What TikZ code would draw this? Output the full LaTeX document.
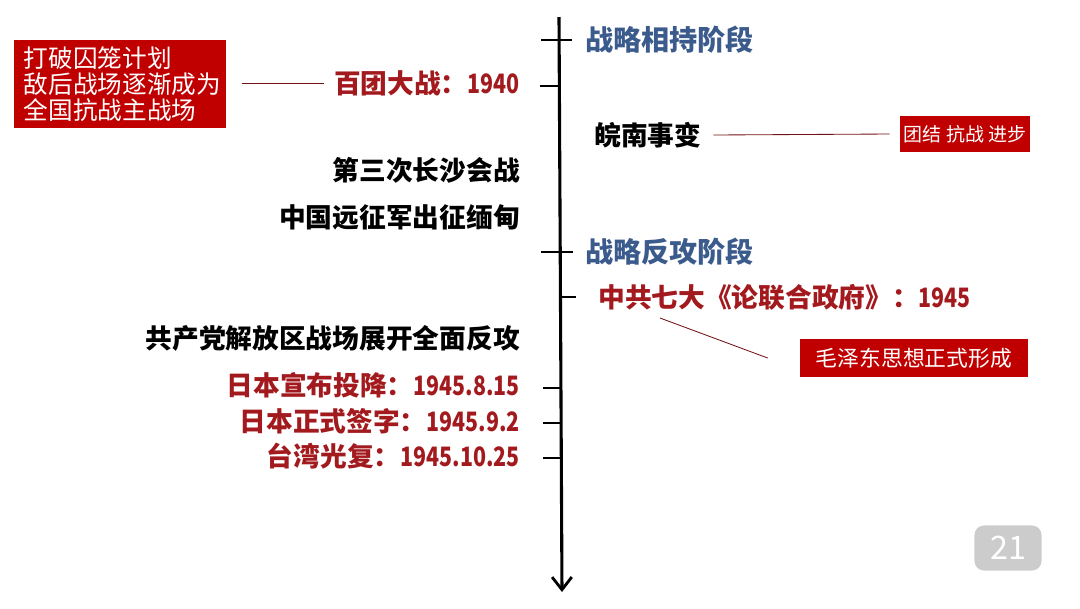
\documentclass[tikz,border=0pt]{standalone}
\usepackage{fontspec}
\setmainfont{Noto Sans CJK SC}
\newfontfamily\digitfont[FakeStretch=0.8]{Noto Sans CJK SC}
\newcommand\yr[1]{{\digitfont #1}}
\usetikzlibrary{arrows.meta}
\definecolor{eventred}{HTML}{A31A1E}
\definecolor{boxred}{HTML}{C00000}
\definecolor{stageblue}{HTML}{3B5B8C}

\begin{document}
\begin{tikzpicture}[
  x=0.025cm, y=-0.025cm,
  event/.style={font=\bfseries\fontsize{19}{22}\selectfont, inner sep=0pt},
  redevent/.style={event, text=eventred},
  stage/.style={font=\bfseries\fontsize{20}{24}\selectfont, text=stageblue, inner sep=0pt},
  notebox/.style={fill=boxred, text=white, inner sep=0pt, align=left},
  tick/.style={line width=2pt},
  link/.style={line width=0.6pt, draw=eventred!70!black},
]
  \useasboundingbox (0,0) rectangle (1080,608);

  % axis
  \coordinate (top) at (559,17);
  \coordinate (bottom) at (562,592);
  \draw[line width=2.2pt, -{Straight Barb[length=9pt, width=14pt, line width=2pt]}] (top) -- (bottom);

  % crossing ticks
  \draw[tick] (541,40) -- (572,40);
  \draw[tick] (541,252) -- (573,252);
  % one-sided ticks
  \draw[tick] (540,86) -- (559,86);
  \draw[tick] (561,297) -- (576,297);
  \foreach \y in {388, 423, 458} {
    \draw[tick] (543,\y) -- (562,\y);
  }

  % stages
  \node[stage, anchor=west] (s1) at (585,40) {战略相持阶段};
  \node[stage, anchor=west] (s2) at (585,252) {战略反攻阶段};

  % events, left of the axis
  \node[redevent, anchor=east] (e1) at (520,83) {百团大战：\yr{1940}};
  \node[event, anchor=east] (e3) at (520,170) {第三次长沙会战};
  \node[event, anchor=east] (e4) at (520,217) {中国远征军出征缅甸};
  \node[event, anchor=east] (e6) at (520,338) {共产党解放区战场展开全面反攻};
  \node[redevent, anchor=east] (e7) at (520,385) {日本宣布投降：\yr{1945.8.15}};
  \node[redevent, anchor=east] (e8) at (520,421) {日本正式签字：\yr{1945.9.2}};
  \node[redevent, anchor=east] (e9) at (520,456) {台湾光复：\yr{1945.10.25}};

  % events, right of the axis
  \node[event, anchor=west] (e2) at (594,135) {皖南事变};
  \node[redevent, anchor=west] (e5) at (598,297) {中共七大《论联合政府》：\yr{1945}};

  % notes
  \node[notebox, minimum width=5.3cm, minimum height=2.2cm, inner xsep=0.25cm,
        text width=4.8cm, font=\fontsize{17.5}{18.5}\selectfont] (n1) at (120,84)
    {打破囚笼计划\\敌后战场逐渐成为\\全国抗战主战场};
  \node[notebox, minimum width=3.25cm, minimum height=0.9cm,
        font=\fontsize{13.5}{16}\selectfont] (n2) at (965,134) {团结 抗战 进步};
  \node[notebox, minimum width=5.7cm, minimum height=0.93cm,
        font=\fontsize{15.5}{17}\selectfont] (n3) at (914,358) {毛泽东思想正式形成};

  \coordinate (m1) at (660,318);
  \draw[link] (n1.east) ++(16,-1) -- ([xshift=-0.25cm]e1.west);
  \draw[link] ([xshift=0.3cm]e2.east) -- ([xshift=-0.25cm]n2.west);
  \draw[link] (m1) -- ([xshift=-0.8cm]n3.west);

  % page number
  \node[fill=black!20, text=white, rounded corners=7pt, minimum width=1.68cm,
        minimum height=1.13cm, font=\fontsize{23}{25}\selectfont] (page) at (1008,548) {21};
\end{tikzpicture}
\end{document}
